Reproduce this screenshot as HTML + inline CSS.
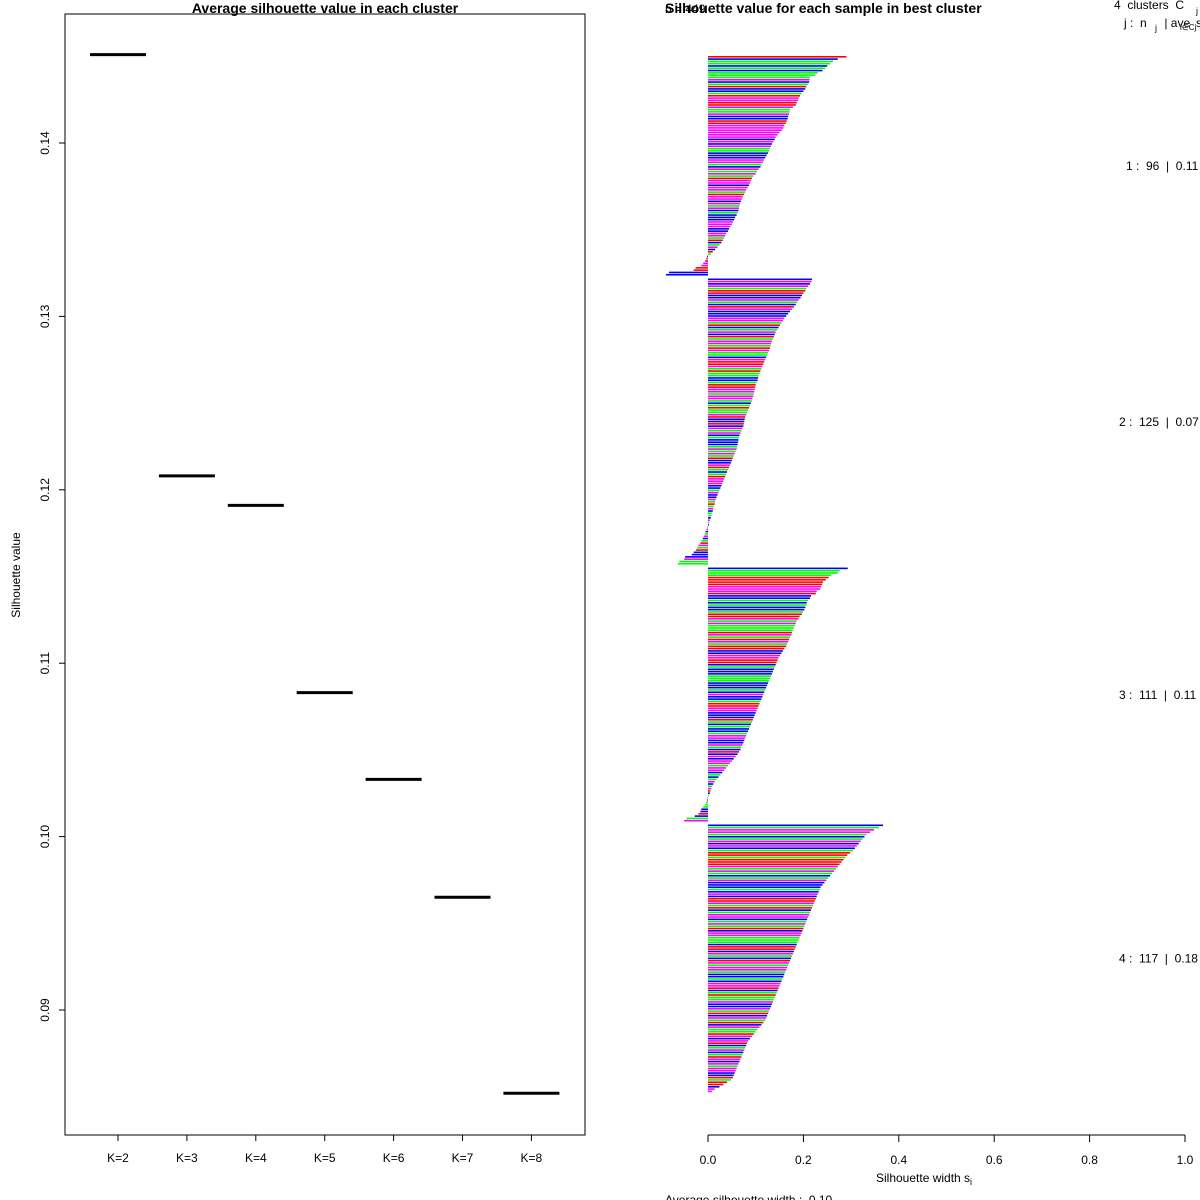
<!DOCTYPE html>
<html><head><meta charset="utf-8"><style>
html,body{margin:0;padding:0;background:#fff}
svg{display:block;font-family:"Liberation Sans",sans-serif}
svg text{white-space:pre}
</style></head><body>
<svg id="chart" width="1200" height="1200" viewBox="0 0 1200 1200" xmlns="http://www.w3.org/2000/svg">
<g id="left"></g>
<g id="right"></g>
</svg>
<script>
// Left chart data
const kCategories = ["K=2","K=3","K=4","K=5","K=6","K=7","K=8"];
const kAvgValues = [0.1451,0.1208,0.1191,0.1083,0.1033,0.0965,0.0852];
const leftYTicks = [0.09,0.10,0.11,0.12,0.13,0.14];
// Right chart data (silhouette widths, thousandths)
const clusterSizes = [96,125,111,117];
const clusterAvgLabels = ["0.11","0.07","0.11","0.18"];
const cluster1 = [290,272,262,256,250,246,240,230,225,214,213,212,210,206,204,200,196,193,190,189,186,184,178,172,171,170,168,167,165,163,160,158,155,150,146,142,140,137,134,132,130,128,126,123,120,117,115,112,110,106,103,100,95,92,90,88,86,83,80,78,76,73,71,69,67,66,65,64,62,60,57,55,52,50,47,44,42,38,36,34,31,28,24,20,15,10,6,-2,-4,-6,-10,-14,-26,-30,-82,-88];
const cluster2 = [218,217,214,210,206,204,200,197,194,190,187,184,180,176,172,168,164,160,157,154,151,148,145,142,140,138,136,134,132,131,130,128,126,124,122,120,118,116,114,112,110,108,106,105,104,102,100,99,98,97,96,95,93,92,90,88,86,84,82,80,78,77,76,75,74,72,70,68,66,65,64,63,62,61,60,58,56,54,52,50,48,46,44,42,40,38,36,34,32,30,28,26,24,22,20,18,16,15,14,12,11,10,8,7,6,4,3,2,-1,-3,-5,-7,-9,-11,-14,-16,-20,-23,-25,-30,-34,-48,-50,-60,-63];
const cluster3 = [293,276,272,258,253,247,241,239,237,235,228,226,216,214,210,207,206,204,202,199,197,192,190,186,184,182,180,178,176,175,172,170,168,166,164,160,157,154,151,148,146,144,142,140,138,136,134,132,130,128,126,124,122,120,118,116,114,112,110,108,106,104,102,100,98,96,94,92,90,88,86,84,82,80,78,76,74,72,70,68,65,62,58,54,50,46,42,38,34,30,26,22,18,14,11,9,7,5,4,2,-1,-2,-4,-6,-10,-14,-16,-20,-28,-45,-50];
const cluster4 = [367,358,348,340,332,328,324,320,316,312,308,304,298,292,288,284,280,276,272,268,264,260,256,252,248,244,240,236,234,232,230,228,226,224,222,220,218,216,214,212,210,208,206,204,202,200,198,196,194,192,190,188,186,184,182,180,178,176,174,172,170,168,166,164,162,160,158,156,154,152,150,148,146,144,142,140,138,136,134,132,130,128,126,124,122,120,116,112,108,104,100,96,92,88,84,82,80,78,76,74,72,70,68,66,64,62,60,58,56,54,52,48,40,32,24,14,8];
const clusterColorCodes = [
 "rbggbgbgggmbgrbbgrmmrrmggmbbrrmmmmmmbmbmggbbbmmgbmgmgrmmbmmgrmmbmgmbgbbbmmmbbmmgrbgmbrgbmrmmrr",
 "bmbmgrrbbmgbrmbbbmmgrbgmbrgmmgrmggbmrrmgrggbbgrrmmgmmgbgrggmrbbrbmgmbgbbbgmgmgrbbmrgbgrmmmbbgmbbmgrgmbggbmgbrmbgmbgrmgrbbbmgggbr",
 "bgggrrrrmmmrbbgbgbbgrrmgmgggrmgrmgrrbbmmrrbgbbbgggbbbgbmbbgrrmmbbbrgbgbbgmmbbmgbrbmbmmgmmbgbgmbgmrbgmrgggbbrbgmbg",
 "bgmmgbgmbmbgrrgrrrmgmgbgmbbbgbmbrrmgrbgmmbgmgrbmmgggbrrbmgbrmgmmgbbgbmmrbgrggmbbmgrbmgrbmggrmbmrbgmbgrmbmgmmbbrgrrbmmgrbm"
];

const NS="http://www.w3.org/2000/svg";
function mk(parent,tag,attrs,text){
  const e=document.createElementNS(NS,tag);
  for(const k in attrs) e.setAttribute(k,attrs[k]);
  if(text!==undefined) e.textContent=text;
  parent.appendChild(e); return e;
}
const L=document.getElementById('left');
const R=document.getElementById('right');

// ---------- Left panel ----------
const lx0=65,lx1=585,ly0=14,ly1=1135;
const yScaleL=v=>143+(0.14-v)*17340;
const xScaleL=i=>118+i*68.9;
let t=mk(L,'text',{x:325,y:13,'text-anchor':'middle','font-size':14,'font-weight':'bold'},'Average silhouette value in each cluster');


let box=mk(L,'rect',{x:lx0,y:ly0,width:lx1-lx0,height:ly1-ly0,fill:'none',stroke:'#000','stroke-width':1});


leftYTicks.forEach(v=>{
  const y=yScaleL(v);
  const tk=mk(L,'line',{x1:lx0-6,x2:lx0,y1:y,y2:y,stroke:'#000'});
  
  
  const lb=mk(L,'text',{x:49,y:y,'font-size':12,'text-anchor':'middle',transform:`rotate(-90 49 ${y})`},v.toFixed(2));
  
  
});
t=mk(L,'text',{x:20,y:575,'font-size':12,'text-anchor':'middle',transform:'rotate(-90 20 575)'},'Silhouette value');


kCategories.forEach((c,i)=>{
  const x=xScaleL(i);
  const tk=mk(L,'line',{x1:x,x2:x,y1:ly1,y2:ly1+6,stroke:'#000'});
  
  
  const lb=mk(L,'text',{x:x,y:1162,'font-size':12,'text-anchor':'middle'},c);
  
  
  const y=yScaleL(kAvgValues[i]);
  const seg=mk(L,'line',{x1:x-28,x2:x+28,y1:y,y2:y,stroke:'#000','stroke-width':3});
  
  
});

// ---------- Right panel ----------
const xScaleR=v=>708+v*477;
const rowTop=56,rowH=2.294;
t=mk(R,'text',{x:665,y:13,'font-size':14,'font-weight':'bold'},'Silhouette value for each sample in best cluster');


t=mk(R,'text',{x:665,y:13,'font-size':12},'n = 449');


t=mk(R,'text',{x:1114,y:9,'font-size':12},'4  clusters  C');


mk(R,'text',{x:1196,y:14,'font-size':9},'j');
t=mk(R,'text',{x:1124,y:27,'font-size':12},'j :  n');


mk(R,'text',{x:1155,y:31,'font-size':9},'j');
mk(R,'text',{x:1161,y:27,'font-size':12},' | ave');
mk(R,'text',{x:1180,y:30,'font-size':8},'i∈Cj');
mk(R,'text',{x:1196,y:27,'font-size':12},'s');

const clusters=[cluster1,cluster2,cluster3,cluster4];
const colMap={r:'#ff0000',g:'#00ff00',b:'#0000ff',m:'#ff00ff'};
let row=0;
clusters.forEach((vals,ci)=>{
  const startRow=row;
  vals.forEach((v,i)=>{
    const val=v/1000;
    const y=rowTop+row*rowH;
    const x0=xScaleR(Math.min(0,val)),x1=xScaleR(Math.max(0,val));
    const r=mk(R,'rect',{x:x0,y:y,width:Math.max(0.5,x1-x0),height:1.6,fill:colMap[clusterColorCodes[ci][i]]||'#0000ff'});
    
    
    row++;
  });
  const midY=rowTop+(startRow+vals.length/2)*rowH+4;
  const lbx=clusterSizes[ci]>=100?1119:1126;
  const lb=mk(R,'text',{x:lbx,y:midY,'font-size':12},`${ci+1} :  ${clusterSizes[ci]}  |  ${clusterAvgLabels[ci]}`);
  
  
  row++;
});
const ax=mk(R,'line',{x1:708,x2:1185,y1:1135,y2:1135,stroke:'#000'});


[0,0.2,0.4,0.6,0.8,1.0].forEach(v=>{
  const x=xScaleR(v);
  const tk=mk(R,'line',{x1:x,x2:x,y1:1135,y2:1142,stroke:'#000'});
  
  
  const lb=mk(R,'text',{x:x,y:1164,'font-size':12,'text-anchor':'middle'},v.toFixed(1));
  
  
});
t=mk(R,'text',{x:876,y:1182,'font-size':12},'Silhouette width s');


mk(R,'text',{x:970,y:1185,'font-size':9},'i');
t=mk(R,'text',{x:665,y:1204,'font-size':12},'Average silhouette width :  0.10');


</script>
</body></html>
